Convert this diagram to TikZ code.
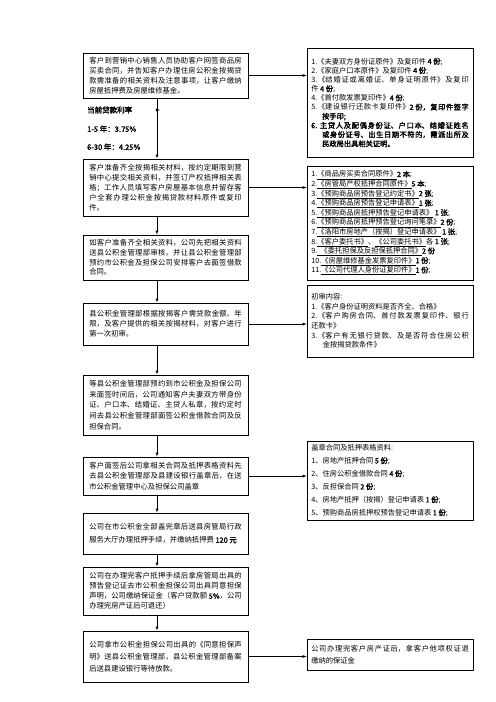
\documentclass[tikz,border=0pt]{standalone}
\usepackage{fontspec}
\setmainfont{Noto Sans CJK SC}[AutoFakeBold=2]
\XeTeXlinebreaklocale "zh"
\XeTeXlinebreakskip=0pt plus 4pt minus 0.2pt
\usetikzlibrary{arrows.meta}

\begin{document}
\begin{tikzpicture}[
                        x=1.2pt, y=-1.2pt,
                        >=latex,
                        leftbox/.style={rectangle, draw, line width=1pt, text width=183pt,
                            inner xsep=7.5pt, inner ysep=2pt, align=justify,
                            font=\fontsize{8.8}{#1}\selectfont},
                        leftbox/.default=12,
                        rightbox/.style={rectangle, draw, line width=1pt, text width=189pt,
                            inner xsep=5pt, inner ysep=2pt, align=justify,
                            font=\fontsize{8.7}{#1}\selectfont},
                        rightbox/.default=11.5,
                        rate/.style={anchor=west, inner sep=0pt, font=\fontsize{9}{10}\selectfont\bfseries},
                        link/.style={->, line width=0.7pt}
                    ]
                    \useasboundingbox (0,0) rectangle (496,702);

                    % Blocks
                    \node [leftbox, minimum height=54pt] (netsign) at (165.5,75.5) {客户到营销中心销售人员协助客户网签商品房\linebreak
买卖合同，并告知客户办理住房公积金按揭贷\linebreak
款需准备的相关资料及注意事项，让客户缴纳\linebreak
房屋抵押费及房屋维修基金。};
                    \node [leftbox, minimum height=68.4pt] (submit) at (165.5,187.5) {客户准备齐全按揭相关材料，按约定期限到营\linebreak
销中心提交相关资料，并签订产权抵押相关表\linebreak
格；工作人员填写客户房屋基本信息并留存客\linebreak
户全套办理公积金按揭贷款材料原件或复印\linebreak
件。};
                    \node [leftbox=11.5, minimum height=54pt] (review) at (165.5,257.5) {如客户准备齐全相关资料，公司先把相关资料\linebreak
送县公积金管理部审核，并让县公积金管理部\linebreak
预约市公积金及担保公司安排客户去面签借款\linebreak
合同。};
                    \node [leftbox, minimum height=50.4pt] (precheck) at (165.5,324) {县公积金管理部根据按揭客户需贷款金额、年\linebreak
限，及客户提供的相关按揭材料，对客户进行\linebreak
第一次初审。};
                    \node [leftbox=12.8, minimum height=72pt] (interview) at (165.5,405) {等县公积金管理部预约到市公积金及担保公司\linebreak
来面签时间后，公司通知客户夫妻双方带身份\linebreak
证、户口本、结婚证、主贷人私章，按约定时\linebreak
间去县公积金管理部面签公积金借款合同及反\linebreak
担保合同。};
                    \node [leftbox=13, minimum height=45.6pt] (stamp) at (165.5,476) {客户面签后公司拿相关合同及抵押表格资料先\linebreak
去县公积金管理部及县建设银行盖章后，在送\linebreak
市公积金管理中心及担保公司盖章};
                    \node [leftbox=15.6, minimum height=49.2pt] (mortgage) at (165.5,533.5) {公司在市公积金全部盖完章后送县房管局行政\linebreak
服务大厅办理抵押手续，并缴纳抵押费 \textbf{120 元}};
                    \node [leftbox, minimum height=57.6pt] (guarantee) at (165.5,591) {公司在办理完客户抵押手续后拿房管局出具的\linebreak
预告登记证去市公积金担保公司出具同意担保\linebreak
声明，公司缴纳保证金（客户贷款额 \textbf{5\%}，公司\linebreak
办理完房产证后可退还）};
                    \node [leftbox=14.4, minimum height=61.2pt] (loan) at (165.5,656.5) {公司拿市公积金担保公司出具的《同意担保声\linebreak
明》送县公积金管理部，县公积金管理部备案\linebreak
后送县建设银行等待放款。};

                    % Rates
                    \node [rate] (ratetitle) at (87,110) {当前贷款利率};
                    \node [rate] (rateshort) at (87,129) {1-5 年：3.75\%};
                    \node [rate] (ratelong) at (87,147) {6-30 年：4.25\%};

                    % Lists
                    \node [rightbox=11, minimum height=130.8pt] (idlist) at (390,102.5) {1.《夫妻双方身份证原件》及复印件 \textbf{4 份};\\
2.《家庭户口本原件》及复印件 \textbf{4 份};\\
3.《结婚证或离婚证、单身证明原件》及复印\linebreak
件 \textbf{4 份};\\
4.《首付款发票复印件》\textbf{4 份};\\
5.《建设银行还款卡复印件》\textbf{2 份，复印件签字}\linebreak
\hspace*{1.5em}\textbf{按手印;}\\
\textbf{6. 主贷人及配偶身份证、户口本、结婚证姓名\linebreak
\hspace*{1.5em}或身份证号、出生日期不符的，需派出所及\linebreak
\hspace*{1.5em}民政局出具相关证明。}};
                    \node [rightbox, minimum height=136.8pt] (filelist) at (390,223) {1.\underline{《商品房买卖合同原件》}\textbf{2 本};\\
2.\underline{《房管局产权抵押合同原件》}\textbf{5 本};\\
3.\underline{《预购商品房预告登记约定书》}\textbf{2 张};\\
4.\underline{《预购商品房预告登记申请表》}\textbf{1 张};\\
5.\underline{《预购商品房抵押预告登记申请表》} \textbf{1 张};\\
6.\underline{《预购商品房抵押预告登记询问笔录》}\textbf{2 份};\\
7.\underline{《洛阳市房地产（按揭）登记申请表》} \textbf{1 张};\\
8.\underline{《客户委托书》}、\underline{《公司委托书》}各 \textbf{1 张};\\
9.\underline{\ \ 《委托担保及反担保抵押合同》}\textbf{2 份}\\
10.\underline{《房屋维修基金发票复印件》}\textbf{1 份};\\
11.\underline{《公司代理人身份证复印件》}\textbf{1 份};};
                    \node [rightbox=11.6, minimum height=86.4pt] (checklist) at (390,321) {初审内容:\\
1.《客户身份证明资料是否齐全、合格》\\
2.《客户购房合同、首付款发票复印件、银行\linebreak
还款卡》\\
3.《客户有无银行贷款、及是否符合住房公积\linebreak
\hspace*{1.6em}金按揭贷款条件》};
                    \node [rightbox=15.6, minimum height=94.8pt] (stamplist) at (390,480.5) {盖章合同及抵押表格资料:\\
1、房地产抵押合同 \textbf{5 份};\\
2、住房公积金借款合同 \textbf{4 份};\\
3、反担保合同 \textbf{2 份};\\
4、房地产抵押（按揭）登记申请表 \textbf{1 份};\\
5、预购商品房抵押权预告登记申请表 \textbf{1 份};};
                    \node [rightbox=14.4, minimum height=37.2pt] (refund) at (390,654.5) {公司办理完客户房产证后，拿客户他项权证退\linebreak
缴纳的保证金};

                    \coordinate (axis) at (157,0);
                    \coordinate (markfrom) at (156,110);
                    \coordinate (markto) at (160,110);

                    % Connections
                    \draw [link] (netsign.south -| axis) -- (submit.north -| axis);
                    \draw [link] (markfrom) -- (markto);
                    \draw [link] (submit.south -| axis) -- (review.north -| axis);
                    \draw [link] (review.south -| axis) -- (precheck.north -| axis);
                    \draw [link] (precheck.south -| axis) -- (interview.north -| axis);
                    \draw [link] (interview.south -| axis) -- (stamp.north -| axis);
                    \draw [link] (stamp.south -| axis) -- (mortgage.north -| axis);
                    \draw [link] (mortgage.south -| axis) -- (guarantee.north -| axis);
                    \draw [link] (guarantee.south -| axis) -- (loan.north -| axis);
                    \draw [link] (netsign.east) -- (netsign.east -| idlist.west);
                    \draw [link] (submit.east) -- (submit.east -| filelist.west);
                    \draw [link] (precheck.east) -- (precheck.east -| checklist.west);
                    \draw [link] (stamp.east) -- (stamp.east -| stamplist.west);
                    \draw [link] (loan.east) -- (loan.east -| refund.west);
                \end{tikzpicture}
\end{document}
